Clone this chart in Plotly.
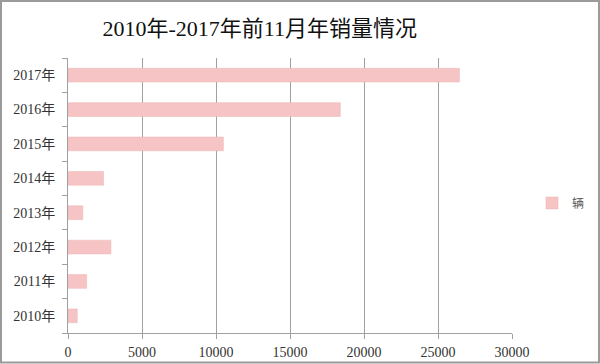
import plotly.graph_objects as go

categories = ["2010年", "2011年", "2012年", "2013年", "2014年", "2015年", "2016年", "2017年"]
values = [630, 1260, 2900, 1000, 2400, 10500, 18400, 26450]
series_name = "辆"
x_ticks = [0, 5000, 10000, 15000, 20000, 25000, 30000]
x_tick_labels = ["0", "5000", "10000", "15000", "20000", "25000", "30000"]
title_text = "2010年-2017年前11月年销量情况"

serif = "Liberation Serif, Noto Sans CJK SC, serif"

fig = go.Figure()
fig.add_trace(go.Bar(
    y=categories, x=values, orientation="h", name=series_name,
    marker=dict(color="#f6c4c4", line=dict(color="#ecb4b4", width=0.5)),
    width=0.4, showlegend=True,
))

fig.update_layout(
    width=600, height=364,
    margin=dict(l=68, r=88, t=58, b=31, autoexpand=False),
    paper_bgcolor="white", plot_bgcolor="white",
    title=dict(text=title_text, x=0.433, xanchor="center", y=0.921, yanchor="middle",
               font=dict(family=serif, size=22, color="#111")),
    font=dict(family=serif, size=13, color="#333"),
    xaxis=dict(range=[0, 30000], tickvals=x_ticks, ticktext=x_tick_labels,
               showgrid=True, gridcolor="#a0a0a0",
               gridwidth=1, showline=True, linecolor="#a0a0a0", ticks="outside",
               ticklen=5, tickcolor="#a0a0a0", zeroline=False, automargin=False,
               ticklabelstandoff=1,
               tickfont=dict(family=serif, size=14, color="#333"), fixedrange=True),
    yaxis=dict(showline=True, linecolor="#a0a0a0", ticks="outside", tickson="boundaries",
               ticklen=5, tickcolor="#a0a0a0", showgrid=False, automargin=False,
               ticklabelstandoff=9,
               tickfont=dict(family=serif, size=14, color="#333"), fixedrange=True),
    legend=dict(x=1.045, y=0.473, xanchor="left", yanchor="middle",
                font=dict(family="Noto Sans CJK SC", size=12, color="#555"),
                itemwidth=30, bgcolor="rgba(0,0,0,0)"),
    shapes=[dict(type="rect", xref="paper", yref="paper",
                 x0=-0.1509, x1=1.1959, y0=-0.107, y1=1.207,
                 line=dict(color="#9a9a9a", width=2), layer="above")],
)

fig.write_html("out.html", config={"displayModeBar": False},
               post_script="document.body.style.margin='0';document.body.style.padding='0';document.body.style.overflow='hidden';")
